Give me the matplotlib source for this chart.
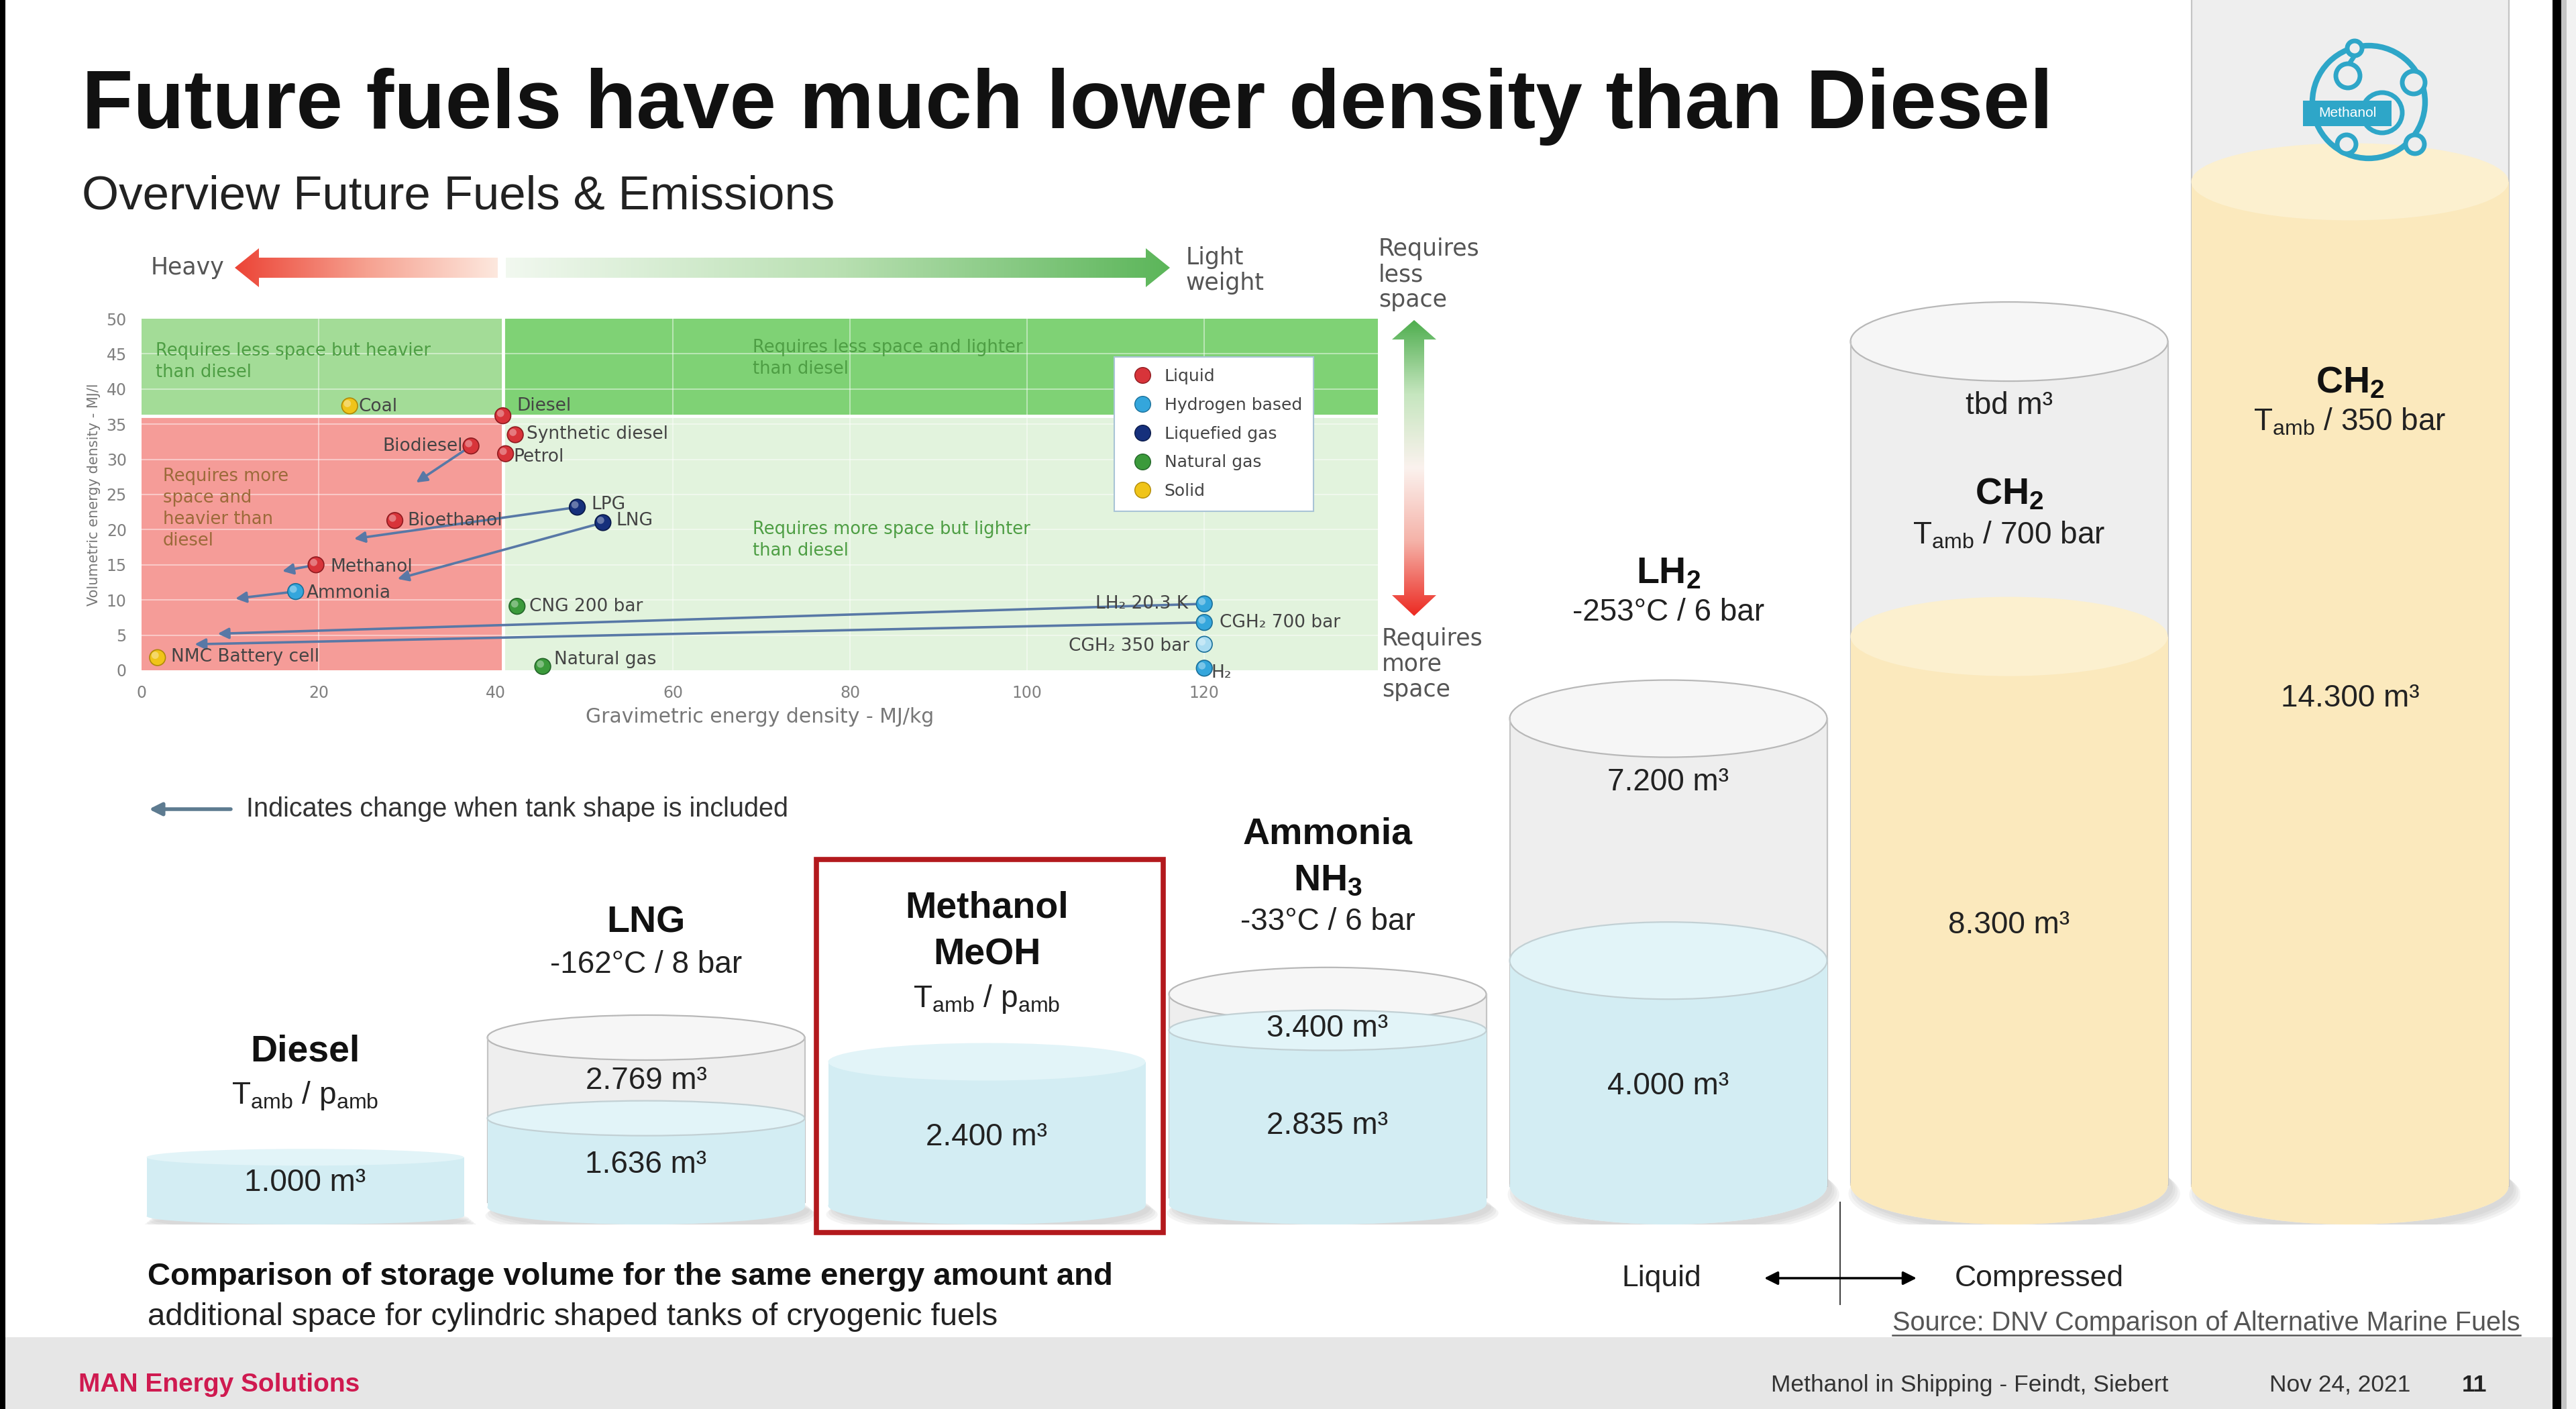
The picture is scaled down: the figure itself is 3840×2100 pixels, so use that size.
import numpy as np
import matplotlib
matplotlib.use('Agg')
import matplotlib.pyplot as plt
import matplotlib.transforms as mtransforms
from matplotlib.patches import Polygon, Rectangle, Ellipse, Circle
from matplotlib.colors import LinearSegmentedColormap
from matplotlib.lines import Line2D

plt.rcParams['font.family'] = ['Liberation Sans', 'DejaVu Sans']
plt.rcParams['mathtext.fontset'] = 'custom'
plt.rcParams['mathtext.rm'] = 'Liberation Sans'
plt.rcParams['mathtext.it'] = 'Liberation Sans:italic'
plt.rcParams['mathtext.bf'] = 'Liberation Sans:bold'

W, H = 3840, 2100

# energy density chart: gravimetric MJ/kg, volumetric MJ/l
FUELS = ['Coal', 'Diesel', 'Synthetic diesel', 'Biodiesel', 'Petrol', 'LPG', 'LNG',
         'Bioethanol', 'Methanol', 'Ammonia', 'CNG 200 bar', 'Natural gas',
         'NMC Battery cell', 'LH₂ 20.3 K', 'CGH₂ 700 bar', 'CGH₂ 350 bar', 'H₂']
GRAV = [23.5, 40.8, 42.2, 37.2, 41.1, 49.2, 52.1, 28.6, 19.7, 17.4, 42.4, 45.3,
        1.8, 120, 120, 120, 120]
VOLU = [37.6, 36.2, 33.5, 31.9, 30.8, 23.2, 21.0, 21.3, 15.0, 11.2, 9.1, 0.55,
        1.8, 9.45, 6.8, 3.7, 0.3]
GROUP = ['Solid', 'Liquid', 'Liquid', 'Liquid', 'Liquid', 'Liquefied gas', 'Liquefied gas',
         'Liquid', 'Liquid', 'Hydrogen based', 'Natural gas', 'Natural gas',
         'Solid', 'Hydrogen based', 'Hydrogen based', 'Hydrogen based', 'Hydrogen based']
GROUPS = ['Liquid', 'Hydrogen based', 'Liquefied gas', 'Natural gas', 'Solid']

# where the point moves when the tank shape is included
SHAPE_FUEL = ['Biodiesel', 'LPG', 'LNG', 'Methanol', 'Ammonia', 'LH₂ 20.3 K', 'CGH₂ 700 bar']
SHAPE_GRAV = [31.0, 24.0, 28.9, 15.9, 10.6, 8.6, 6.0]
SHAPE_VOLU = [26.7, 18.7, 13.0, 14.1, 10.2, 5.2, 3.7]

# storage volume for same energy amount (m3)
TANKS = ['Diesel', 'LNG', 'Methanol', 'Ammonia', 'LH2', 'CH2 700', 'CH2 350']
FUEL_VOL = [1000, 1636, 2400, 2835, 4000, 8300, 14300]
TANK_VOL = [None, 2769, None, 3400, 7200, None, None]
TBD_DRAWN = [None, None, None, None, None, 12200, 19000]   # "tbd" shells, drawn size
KIND = ['liquid'] * 5 + ['compressed'] * 2
TITLES = ['Diesel', 'LNG', 'Methanol', 'Ammonia', r'LH$_\mathbf{2}$', r'CH$_\mathbf{2}$', r'CH$_\mathbf{2}$']
FORMULA = [None, None, 'MeOH', r'NH$_\mathbf{3}$', None, None, None]
STORAGE = [r'T$_\mathrm{amb}$ / p$_\mathrm{amb}$', '-162°C / 8 bar', r'T$_\mathrm{amb}$ / p$_\mathrm{amb}$',
           '-33°C / 6 bar', '-253°C / 6 bar', r'T$_\mathrm{amb}$ / 700 bar', r'T$_\mathrm{amb}$ / 350 bar']

COLORS = {'Liquid': '#d8343a', 'Hydrogen based': '#34a6dc', 'Liquefied gas': '#16307c',
          'Natural gas': '#3b9a3b', 'Solid': '#f0c419'}
EDGES = {'Liquid': '#8e1b20', 'Hydrogen based': '#1a6f99', 'Liquefied gas': '#0a1a48',
         'Natural gas': '#24662a', 'Solid': '#b08a08'}
PALE = ['CGH₂ 350 bar']   # drawn as a pale ball in the source

# label placement (ha, dx, dy) per fuel
LABEL_POS = [('left', 1.0, -0.1), ('left', 1.6, 1.4), ('left', 1.3, 0.1), ('right', -0.9, 0.0),
             ('left', 0.9, -0.5), ('left', 1.6, 0.4), ('left', 1.5, 0.3), ('left', 1.4, 0.0),
             ('left', 1.6, -0.3), ('left', 1.2, -0.2), ('left', 1.4, 0.0), ('left', 1.3, 1.0),
             ('left', 1.5, 0.1), ('right', -1.8, 0.0), ('left', 1.7, 0.0), ('right', -1.7, -0.3),
             ('left', 0.8, -0.7)]

fig = plt.figure(figsize=(W / 100, H / 100), dpi=100)
fig.patch.set_facecolor('white')

bg = fig.add_axes([0, 0, 1, 1], zorder=0)
bg.set_xlim(0, W)
bg.set_ylim(H, 0)
bg.set_axis_off()

fg = fig.add_axes([0, 0, 1, 1], zorder=5)
fg.set_xlim(0, W)
fg.set_ylim(H, 0)
fg.set_axis_off()

# slide frame and footer
bg.add_patch(Rectangle((8, 1993), 3797, 107, fc='#e6e6e6', ec='none'))
fg.add_patch(Rectangle((0, 0), 8, H, fc='black', ec='none'))
fg.add_patch(Rectangle((3805, 0), 13, H, fc='black', ec='none'))
fg.add_patch(Rectangle((3818, 0), 8, H, fc='#c4c4c4', ec='none'))
fg.add_patch(Rectangle((3826, 0), 14, H, fc='#f2f2f2', ec='none'))

fg.text(122, 191, 'Future fuels have much lower density than Diesel', fontsize=90,
        fontweight='bold', color='#111111', va='baseline')
fg.text(122, 311, 'Overview Future Fuels & Emissions', fontsize=51, color='#222222',
        va='baseline')

# ---------------- energy density scatter ----------------
ax = fig.add_axes([211 / W, (H - 999) / H, (2054 - 211) / W, (999 - 475) / H], zorder=1)
ax.set_xlim(0, 139.6)
ax.set_ylim(0, 50)
ax.set_facecolor('none')
for s in ax.spines.values():
    s.set_visible(False)

dx_ref, dy_ref = GRAV[1], VOLU[1]   # diesel splits the map
ax.add_patch(Rectangle((0, 0), dx_ref, dy_ref, fc='#f59c98', ec='none', zorder=0))
ax.add_patch(Rectangle((dx_ref, 0), 139.6 - dx_ref, dy_ref, fc='#e2f3dd', ec='none', zorder=0))
ax.add_patch(Rectangle((0, dy_ref), dx_ref, 50 - dy_ref, fc='#a3dc97', ec='none', zorder=0))
ax.add_patch(Rectangle((dx_ref, dy_ref), 139.6 - dx_ref, 50 - dy_ref, fc='#7fd275', ec='none', zorder=0))
for yv in range(5, 50, 5):
    ax.axhline(yv, color='white', lw=1.5, alpha=0.45, zorder=0.5)
for xv in [20, 60, 80, 100, 120]:
    ax.axvline(xv, color='white', lw=1.5, alpha=0.45, zorder=0.5)
ax.axvline(dx_ref, color='white', lw=3.5, zorder=0.6)
ax.axhline(dy_ref, color='white', lw=3.5, zorder=0.6)

txt_kw = dict(family='DejaVu Sans', fontsize=18.5, va='top', linespacing=1.3, zorder=1)
ax.text(1.6, 46.7, 'Requires less space but heavier\nthan diesel', color='#4e9e44', **txt_kw)
ax.text(69.0, 47.1, 'Requires less space and lighter\nthan diesel', color='#4e9e44', **txt_kw)
ax.text(2.4, 28.8, 'Requires more\nspace and\nheavier than\ndiesel', color='#9c6a3a', **txt_kw)
ax.text(69.0, 21.3, 'Requires more space but lighter\nthan diesel', color='#4e9e44', **txt_kw)

for f, gx, gy in zip(SHAPE_FUEL, SHAPE_GRAV, SHAPE_VOLU):
    i = FUELS.index(f)
    ax.annotate('', xy=(gx, gy), xytext=(GRAV[i], VOLU[i]),
                arrowprops=dict(arrowstyle='-|>', color='#5878a6', lw=2.6,
                                mutation_scale=24, shrinkA=6, shrinkB=0), zorder=3)

shine = ax.transData + mtransforms.ScaledTranslation(-2.5 / 72, 2.5 / 72, fig.dpi_scale_trans)
for g in GROUPS:
    idx = [i for i, gg in enumerate(GROUP) if gg == g]
    xs = [GRAV[i] for i in idx]
    ys = [VOLU[i] for i in idx]
    face = ['#a9dcf2' if FUELS[i] in PALE else COLORS[g] for i in idx]
    ax.scatter(xs, ys, s=290, c=face, edgecolors=EDGES[g], linewidths=1.2, zorder=5, clip_on=False)
    ax.scatter(xs, ys, s=60, c='white', alpha=0.35, edgecolors='none', zorder=5.1,
               clip_on=False, transform=shine)

for i, name in enumerate(FUELS):
    ha, ddx, ddy = LABEL_POS[i]
    ax.text(GRAV[i] + ddx, VOLU[i] + ddy, name, ha=ha, va='center', family='DejaVu Sans',
            fontsize=19, color='#444444', zorder=6, clip_on=False)

handles = [Line2D([], [], marker='o', ls='', mfc=COLORS[g], mec=EDGES[g], ms=17) for g in GROUPS]
leg = ax.legend(handles, GROUPS, loc='upper left', bbox_to_anchor=(109.8, 44.6),
                bbox_transform=ax.transData, prop=dict(family='DejaVu Sans', size=18),
                frameon=True, fancybox=False, framealpha=1, edgecolor='#a9c4d6',
                labelspacing=0.75, borderpad=0.7, handletextpad=0.3, borderaxespad=0)
leg.get_frame().set_linewidth(1.5)
leg.set_zorder(7)
for t in leg.get_texts():
    t.set_color('#444444')

ax.set_xticks(range(0, 121, 20))
ax.set_yticks(range(0, 51, 5))
ax.tick_params(length=0, labelsize=17, labelcolor='#808080', pad=16)
for lab in ax.get_xticklabels() + ax.get_yticklabels():
    lab.set_family('DejaVu Sans')
ax.set_xlabel('Gravimetric energy density - MJ/kg', family='DejaVu Sans', fontsize=21.5,
              color='#777777', labelpad=6)
ax.set_ylabel('Volumetric energy density - MJ/l', family='DejaVu Sans', fontsize=15,
              color='#777777', labelpad=6)


def grad_arrow(axis, verts, colors, extent, vertical=False):
    poly = Polygon(verts, closed=True, fc='none', ec='none')
    axis.add_patch(poly)
    cmap = LinearSegmentedColormap.from_list('g', colors)
    grad = np.linspace(0, 1, 256)
    grad = grad.reshape(-1, 1) if vertical else grad.reshape(1, -1)
    im = axis.imshow(grad, cmap=cmap, extent=extent, aspect='auto', zorder=2,
                     interpolation='bilinear')
    im.set_clip_path(poly)


grad_arrow(fg, [(350, 399), (386, 370), (386, 384), (742, 384), (742, 414), (386, 414), (386, 428)],
           ['#ec4436', '#f6a190', '#fde8de'], (350, 742, 430, 368))
grad_arrow(fg, [(754, 384), (1708, 384), (1708, 370), (1744, 399), (1708, 428), (1708, 414), (754, 414)],
           ['#f1f8ef', '#b9e0b2', '#5cb65a'], (754, 1744, 430, 368))
grad_arrow(fg, [(2108, 477), (2141, 506), (2123, 506), (2123, 887), (2141, 887), (2108, 918),
                (2075, 887), (2093, 887), (2093, 506), (2075, 506)],
           ['#4fae4f', '#c6e6bf', '#fbf2ee', '#f5b2a8', '#ec2a22'], (2070, 2146, 918, 477),
           vertical=True)
fg.set_xlim(0, W)
fg.set_ylim(H, 0)

side_kw = dict(family='DejaVu Sans', fontsize=25, color='#555555', linespacing=1.15)
fg.text(225, 399, 'Heavy', va='center', **side_kw)
fg.text(1768, 403, 'Light\nweight', va='center', **side_kw)
fg.text(2055, 409, 'Requires\nless\nspace', va='center', **side_kw)
fg.text(2060, 990, 'Requires\nmore\nspace', va='center', **side_kw)

fg.annotate('', xy=(222, 1206), xytext=(344, 1206),
            arrowprops=dict(arrowstyle='-|>', color='#5d7b90', lw=4, mutation_scale=28, shrinkA=0, shrinkB=0))
fg.text(367, 1206, 'Indicates change when tank shape is included', fontsize=28.5,
        color='#333333', va='center')

# ---------------- storage volume tanks ----------------
PX = 0.1127          # pixels per m3
TX0, TDX, TW = 455, 508, 473
BASE = 1825
ax_t = fig.add_axes([(TX0 - TDX / 2) / W, (H - BASE) / H, 7 * TDX / W, BASE / H], zorder=1)
ax_t.set_xlim(-0.5, 6.5)
ax_t.set_ylim(0, BASE / PX)
ax_t.set_axis_off()
tw = TW / TDX

FUEL_CAP = [25, 52, 56, 60, 115, 118, 115]
SHELL_CAP = [0, 67, 0, 80, 115, 118, 115]


def cylinder(xc, top, cap_px, body, lid, edge=None, lid_edge=None, z=2):
    ry = cap_px / 2 / PX
    ax_t.add_patch(Rectangle((xc - tw / 2, ry), tw, top - 2 * ry, fc=body, ec='none', zorder=z))
    ax_t.add_patch(Ellipse((xc, ry), tw, 2 * ry, fc=body, ec='none', zorder=z))
    ax_t.add_patch(Ellipse((xc, top - ry), tw, 2 * ry, fc=lid, ec=lid_edge or 'none',
                           lw=1.6, zorder=z + 0.1))
    if edge:
        for sx in (-tw / 2, tw / 2):
            ax_t.plot([xc + sx] * 2, [ry, top - ry], color=edge, lw=1.6, zorder=z + 0.1)


for i in range(len(TANKS)):
    ry = FUEL_CAP[i] / 2 / PX
    for k in range(4):
        ax_t.add_patch(Ellipse((i + 0.015, ry - (4 + 3 * k) / PX), tw * (1.0 + 0.015 * k),
                               2 * ry + 10 / PX, fc='#8c8c8c', ec='none', alpha=0.09, zorder=1))
    shell = TANK_VOL[i] or TBD_DRAWN[i]
    if shell:
        cylinder(i, shell, SHELL_CAP[i], '#eeeeee', '#f6f6f6', edge='#c4c4c4', lid_edge='#b8b8b8', z=2)
    if KIND[i] == 'liquid':
        cylinder(i, FUEL_VOL[i], FUEL_CAP[i], '#d3edf3', '#e2f4f8',
                 lid_edge='#c2d0d4' if shell else None, z=3)
    else:
        cylinder(i, FUEL_VOL[i], FUEL_CAP[i], '#fbe9bd', '#fcf0cf', z=3)


def m3(v):
    return f'{v:,}'.replace(',', '.') + ' m³'


tr = mtransforms.blended_transform_factory(ax_t.transData, fg.transData)
name_kw = dict(fontsize=40, fontweight='bold', color='#111111', ha='center', va='center', transform=tr)
sub_kw = dict(fontsize=33, color='#222222', ha='center', va='center', transform=tr)

# label rows (pixel y): title, formula, storage condition, shell volume, fuel volume
TITLE_Y = [1567, 1376, 1354, 1244, 855, 737, 571]
FORMULA_Y = [None, None, 1423, 1313, None, None, None]
STORAGE_Y = [1633, 1438, 1489, 1374, 913, 798, 629]
SHELL_Y = [None, 1611, None, 1533, 1166, 605, None]
FUEL_Y = [1763, 1736, 1695, 1678, 1619, 1379, 1041]

for i in range(len(TANKS)):
    fg.text(i, TITLE_Y[i], TITLES[i], **name_kw)
    if FORMULA[i]:
        fg.text(i, FORMULA_Y[i], FORMULA[i], **name_kw)
    fg.text(i, STORAGE_Y[i], STORAGE[i], **sub_kw)
    if SHELL_Y[i]:
        fg.text(i, SHELL_Y[i], m3(TANK_VOL[i]) if TANK_VOL[i] else 'tbd m³', **sub_kw)
    fg.text(i, FUEL_Y[i], m3(FUEL_VOL[i]), **sub_kw)

fg.add_patch(Rectangle((1217, 1281), 517, 556, fc='none', ec='#b3191d', lw=5.5, zorder=6))

# liquid / compressed divider
fg.plot([2743, 2743], [1792, 1944], color='#444444', lw=1.5)
fg.annotate('', xy=(2630, 1905), xytext=(2857, 1905),
            arrowprops=dict(arrowstyle='<|-|>', color='black', lw=2.5, mutation_scale=30,
                            shrinkA=0, shrinkB=0))
fg.text(2417, 1917, 'Liquid', fontsize=32, color='#222222', va='baseline')
fg.text(2914, 1917, 'Compressed', fontsize=32, color='#222222', va='baseline')

fg.text(220, 1915, 'Comparison of storage volume for the same energy amount and', fontsize=34,
        fontweight='bold', color='#111111', va='baseline')
fg.text(220, 1975, 'additional space for cylindric shaped tanks of cryogenic fuels', fontsize=34,
        color='#222222', va='baseline')

src = fg.text(3757, 1983, 'Source: DNV Comparison of Alternative Marine Fuels', fontsize=28.5,
              color='#555555', ha='right', va='baseline')
bb = src.get_window_extent(renderer=fig.canvas.get_renderer())
fg.plot([bb.x0, bb.x1], [1990, 1990], color='#555555', lw=1.8)

# footer
fg.text(117, 2074, 'MAN Energy Solutions', fontsize=28, fontweight='bold', color='#cf1a50', va='baseline')
fg.text(2640, 2074, 'Methanol in Shipping - Feindt, Siebert', fontsize=25.5, color='#333333', va='baseline')
fg.text(3383, 2074, 'Nov 24, 2021', fontsize=25.5, color='#333333', va='baseline')
fg.text(3670, 2074, '11', fontsize=25.5, fontweight='bold', color='#222222', va='baseline')

# methanol logo
LOGO = '#2ea6c8'
fg.add_patch(Circle((3531, 152), 84, fc='none', ec=LOGO, lw=6, zorder=7))
for cx, cy, r in [(3510, 72, 11), (3500, 113, 18), (3598, 123, 17), (3551, 168, 30),
                  (3498, 215, 14), (3600, 215, 14)]:
    fg.add_patch(Circle((cx, cy), r, fc='#eeeeee', ec=LOGO, lw=5, zorder=8))
fg.plot([3510, 3502], [83, 95], color=LOGO, lw=5, zorder=7)
fg.add_patch(Rectangle((3433, 150), 132, 38, fc=LOGO, ec='none', zorder=9))
fg.text(3499, 169, 'Methanol', fontsize=15, color='white', ha='center', va='center', zorder=10)

fig.savefig('out.png', dpi=100)
